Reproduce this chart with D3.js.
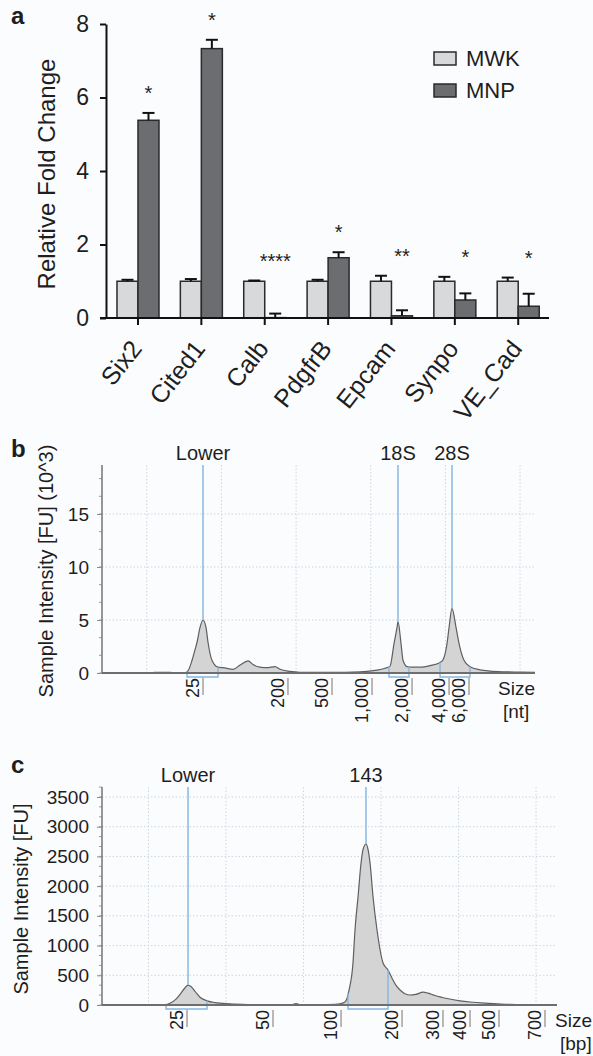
<!DOCTYPE html>
<html><head><meta charset="utf-8">
<script src="https://cdn.jsdelivr.net/npm/d3@7"></script>
<style>
html,body{margin:0;padding:0;background:#fbfcfe;}
svg{display:block;font-family:"Liberation Sans",Arial,Helvetica,sans-serif;}
</style></head><body>
<svg id="chart" width="593" height="1056"></svg>
<script>
// ---------- Panel a data ----------
const genes   = ["Six2","Cited1","Calb","PdgfrB","Epcam","Synpo","VE_Cad"];
const groups  = ["MWK","MNP"];
const mwkMean = [1.0, 1.0, 1.0, 1.0, 1.0, 1.0, 1.0];
const mwkErr  = [0.04, 0.06, 0.02, 0.04, 0.15, 0.12, 0.10];
const mnpMean = [5.38, 7.33, 0.01, 1.64, 0.06, 0.49, 0.32];
const mnpErr  = [0.20, 0.24, 0.11, 0.15, 0.15, 0.18, 0.34];
const signif  = ["*","*","****","*","**","*","*"];
const yTicksA = [0, 2, 4, 6, 8];

// ---------- Panel b data (RNA electropherogram) ----------
const bTime   = [14.0,20.43,21.10,21.77,23.11,23.78,25.12,25.52,26.06,26.46,26.73,27.13,27.53,27.93,28.20,28.73,29.54,30.21,31.55,32.49,33.56,34.23,35.16,36.10,37.17,37.84,39.18,40.52,44.54,48.56,50.57,51.91,52.58,53.12,53.52,53.65,54.05,54.32,54.86,55.53,56.60,57.94,59.28,59.68,60.22,60.49,60.88,61.42,61.82,62.49,63.29,64.63,65.97,67.98,69.99,72.0];
const bSignal = [0,0,0.06,0.07,0.06,0,0.02,0.2,1.2,2.2,2.9,4.3,5.0,4.3,2.9,1.2,0.55,0.5,0.35,0.75,1.15,0.8,0.55,0.5,0.6,0.35,0.15,0.07,0.05,0.1,0.25,0.45,0.65,2.8,4.3,4.84,2.8,1.2,0.6,0.55,0.55,0.7,1.0,1.25,2.8,4.3,6.1,4.3,2.8,1.2,0.6,0.3,0.18,0.11,0.08,0.05];
const bYTicks = [0, 5, 10, 15];
const bLadderLabels = ["25","200","500","1,000","2,000","4,000","6,000"];
const bLadderTimes  = [27.53, 38.91, 44.81, 50.17, 55.53, 60.49, 63.16];
const bPeakNames = ["Lower","18S","28S"];
const bPeakTimes = [27.53, 53.65, 60.88];
const bWinStart  = [25.39, 52.44, 59.28];
const bWinEnd    = [29.54, 55.12, 63.29];

// ---------- Panel c data (small RNA electropherogram) ----------
const cTime   = [14.0,21.48,22.13,22.77,23.55,24.19,24.71,25.10,25.48,26.0,26.64,27.55,28.58,30.51,33.09,35.67,38.51,39.03,39.55,42.13,44.06,44.71,45.35,45.87,46.38,46.64,47.03,47.42,47.68,48.06,48.32,48.58,48.97,49.48,50.26,50.90,51.42,51.93,52.45,53.09,53.74,54.51,55.41,56.06,56.96,58.51,60.19,61.48,63.41,64.96,66.64,69.22,72.7];
const cSignal = [0,0,5,30,100,200,290,335,310,230,130,70,40,20,8,3,5,25,5,3,10,20,50,252,707,1262,1817,2389,2620,2709,2620,2389,1817,1262,707,589,450,330,252,190,168,180,215,200,160,110,70,50,30,20,10,5,0];
const cYTicks = [0,500,1000,1500,2000,2500,3000,3500];
const cLadderLabels = ["25","50","100","200","300","400","500","700"];
const cLadderTimes  = [24.97, 36.06, 44.84, 52.71, 57.99, 61.48, 65.22, 71.15];
const cPeakNames = ["Lower","143"];
const cPeakTimes = [25.10, 48.06];
const cWinStart  = [22.26, 45.74];
const cWinEnd    = [27.55, 50.90];
const gridTimes  = [20, 30, 40, 50, 60, 70];

const svg = d3.select("#chart");
const TXT = "#1e1e1e";

// ================= Panel a =================
const ga = svg.append("g");
const ya = d3.scaleLinear().domain([0, 8]).range([318, 24]);
const xa = d3.scaleBand().domain(genes).range([106.3, 549.9]);
const xg = d3.scaleBand().domain(groups).range([-21, 21]);
const fillA = {MWK: "#d8d9db", MNP: "#6c6d71"};
const seriesA = {MWK: {mean: mwkMean, err: mwkErr}, MNP: {mean: mnpMean, err: mnpErr}};

genes.forEach((g, i) => {
  const cx = xa(g) + xa.bandwidth() / 2;
  let topMax = 0;
  groups.forEach(s => {
    const m = seriesA[s].mean[i], e = seriesA[s].err[i];
    topMax = Math.max(topMax, m + e);
    const bx = cx + xg(s);
    ga.append("rect").attr("x", bx).attr("y", ya(m))
      .attr("width", xg.bandwidth()).attr("height", ya(0) - ya(m))
      .attr("fill", fillA[s]).attr("stroke", "#2a2a2a").attr("stroke-width", 1.5);
    const ex = bx + xg.bandwidth() / 2;
    ga.append("line").attr("x1", ex).attr("x2", ex).attr("y1", ya(m)).attr("y2", ya(m + e))
      .attr("stroke", "#111").attr("stroke-width", 2);
    ga.append("line").attr("x1", ex - 6).attr("x2", ex + 6).attr("y1", ya(m + e)).attr("y2", ya(m + e))
      .attr("stroke", "#111").attr("stroke-width", 2);
  });
  const mx = cx + xg("MNP") + xg.bandwidth() / 2;
  ga.append("text").attr("x", mx).attr("y", ya(topMax) - 13)
    .attr("text-anchor", "middle").attr("font-size", 20).attr("fill", TXT).text(signif[i]);
});

// y axis
const axA = ga.append("g").attr("transform", "translate(106,0)")
  .call(d3.axisLeft(ya).tickValues(yTicksA).tickSize(6).tickPadding(11).tickSizeOuter(0));
axA.select(".domain").attr("stroke", "#111").attr("stroke-width", 2);
axA.selectAll(".tick line").attr("stroke", "#111").attr("stroke-width", 2);
axA.selectAll(".tick text").attr("font-size", 23).attr("fill", TXT)
  .attr("font-family", "Liberation Sans, Arial, sans-serif");

// x axis
ga.append("line").attr("x1", 100).attr("x2", 549).attr("y1", ya(0)).attr("y2", ya(0))
  .attr("stroke", "#111").attr("stroke-width", 2);
const axAx = ga.append("g").attr("transform", `translate(0,${ya(0)})`)
  .call(d3.axisBottom(xa).tickSize(7).tickFormat(""));
axAx.select(".domain").remove();
axAx.selectAll(".tick line").attr("stroke", "#111").attr("stroke-width", 2);
genes.forEach(g => {
  const cx = xa(g) + xa.bandwidth() / 2;
  ga.append("text").attr("transform", `translate(${cx + 5},349) rotate(-52)`)
    .attr("text-anchor", "end").attr("font-size", 25).attr("fill", TXT).text(g);
});

ga.append("text").attr("transform", "translate(55,174) rotate(-90)")
  .attr("text-anchor", "middle").attr("font-size", 24).attr("fill", TXT).text("Relative Fold Change");
svg.append("text").attr("x", 11).attr("y", 24).attr("font-size", 24).attr("font-weight", "bold")
  .attr("fill", TXT).text("a");

// legend
groups.forEach((s, k) => {
  const ly = 52 + k * 32;
  ga.append("rect").attr("x", 434).attr("y", ly).attr("width", 22).attr("height", 13)
    .attr("fill", fillA[s]).attr("stroke", "#2a2a2a").attr("stroke-width", 1.5);
  ga.append("text").attr("x", 466).attr("y", ly + 14).attr("font-size", 22).attr("fill", TXT).text(s);
});

// ================= Electropherogram helper =================
function egram(o) {
  const g = svg.append("g");
  const x = d3.scaleLinear().domain(o.xDomain).range([o.left, o.right]);
  const y = d3.scaleLinear().domain(o.yDomain).range([o.base, o.top]);
  const interp = d3.scaleLinear().domain(o.times).range(o.signal);

  // grid
  g.selectAll(".vg").data(gridTimes).join("line")
    .attr("x1", d => x(d)).attr("x2", d => x(d)).attr("y1", o.top).attr("y2", o.base)
    .attr("stroke", "#cdd6de").attr("stroke-width", 1).attr("stroke-dasharray", "1.5,2");
  g.selectAll(".hg").data(o.yTicks.filter(d => d > 0)).join("line")
    .attr("x1", o.left).attr("x2", o.right).attr("y1", d => y(d)).attr("y2", d => y(d))
    .attr("stroke", "#cdd6de").attr("stroke-width", 1).attr("stroke-dasharray", "1.5,2");

  // trace
  const area = d3.area().x((d, i) => x(o.times[i])).y0(y(0)).y1(d => y(d)).curve(d3.curveMonotoneX);
  const line = d3.line().x((d, i) => x(o.times[i])).y(d => y(d)).curve(d3.curveMonotoneX);
  g.append("path").datum(o.signal).attr("d", area).attr("fill", "#d4d4d5");
  g.append("path").datum(o.signal).attr("d", line).attr("fill", "none")
    .attr("stroke", "#5f5f5f").attr("stroke-width", 1.2);

  // peak markers
  o.peakTimes.forEach((t, i) => {
    g.append("line").attr("x1", x(t)).attr("x2", x(t)).attr("y1", o.top).attr("y2", y(interp(t)))
      .attr("stroke", "#8fbde4").attr("stroke-width", 1.6);
    g.append("text").attr("x", x(t)).attr("y", o.top - 5).attr("text-anchor", "middle")
      .attr("font-size", 20).attr("fill", TXT).text(o.peakNames[i]);
  });
  // integration windows
  o.winStart.forEach((s, i) => {
    const e = o.winEnd[i];
    const yb = y(0) + 4;
    g.append("path")
      .attr("d", `M${x(s)},${y(interp(s))}V${yb}H${x(e)}V${y(interp(e))}`)
      .attr("fill", "none").attr("stroke", "#86b6e0").attr("stroke-width", 1.4);
  });

  // axes
  const ay = g.append("g").attr("transform", `translate(${o.left},0)`)
    .call(d3.axisLeft(y).tickValues(o.yTicks).tickFormat(d3.format("d")).tickSize(5).tickPadding(8).tickSizeOuter(0));
  ay.select(".domain").remove();
  ay.selectAll(".tick line").attr("stroke", "#8a8a8a").attr("stroke-width", 1);
  ay.selectAll(".tick text").attr("font-size", 19).attr("fill", TXT)
    .attr("font-family", "Liberation Sans, Arial, sans-serif");
  const minor = [];
  const step = o.yTicks[1] - o.yTicks[0];
  for (let v = 0; v <= o.yDomain[1]; v += step / 3) minor.push(v);
  g.selectAll(".mt").data(minor).join("line")
    .attr("x1", o.left - 3).attr("x2", o.left).attr("y1", d => y(d)).attr("y2", d => y(d))
    .attr("stroke", "#9a9a9a").attr("stroke-width", 1);
  g.append("line").attr("x1", o.left).attr("x2", o.left).attr("y1", o.top).attr("y2", o.base)
    .attr("stroke", "#7c7c7c").attr("stroke-width", 1.6);
  g.append("line").attr("x1", o.left).attr("x2", o.right).attr("y1", o.base).attr("y2", o.base)
    .attr("stroke", "#6e6e6e").attr("stroke-width", 1.8);

  // ladder labels
  o.ladderTimes.forEach((t, i) => {
    g.append("line").attr("x1", x(t)).attr("x2", x(t)).attr("y1", o.base + 5).attr("y2", o.base + 22)
      .attr("stroke", "#a39a93").attr("stroke-width", 1.4);
    g.append("text").attr("transform", `translate(${x(t) - 4},${o.base + 5}) rotate(-90)`)
      .attr("text-anchor", "end").attr("font-size", 18).attr("fill", TXT).text(o.ladderLabels[i]);
  });
  g.append("text").attr("x", o.sizeX).attr("y", o.sizeY).attr("font-size", 19).attr("fill", TXT).text("Size");
  g.append("text").attr("x", o.sizeX + 5).attr("y", o.sizeY + 23).attr("font-size", 19).attr("fill", TXT).text(o.unit);

  g.append("text").attr("transform", `translate(${o.labX},${(o.top + o.base) / 2 + o.labDy}) rotate(-90)`)
    .attr("text-anchor", "middle").attr("font-size", 20).attr("fill", TXT).text(o.yLabel);
  svg.append("text").attr("x", 11).attr("y", o.letterY).attr("font-size", 24).attr("font-weight", "bold")
    .attr("fill", TXT).text(o.letter);
}

egram({
  xDomain: [14, 72], yDomain: [0, 19.62], left: 102, right: 535, top: 465, base: 673,
  times: bTime, signal: bSignal, yTicks: bYTicks,
  ladderTimes: bLadderTimes, ladderLabels: bLadderLabels,
  peakNames: bPeakNames, peakTimes: bPeakTimes, winStart: bWinStart, winEnd: bWinEnd,
  sizeX: 498, sizeY: 695, unit: "[nt]", yLabel: "Sample Intensity [FU] (10^3)",
  labX: 53, labDy: 2, letter: "b", letterY: 457
});
egram({
  xDomain: [14, 72.7], yDomain: [0, 3668], left: 102, right: 557, top: 787, base: 1005,
  times: cTime, signal: cSignal, yTicks: cYTicks,
  ladderTimes: cLadderTimes, ladderLabels: cLadderLabels,
  peakNames: cPeakNames, peakTimes: cPeakTimes, winStart: cWinStart, winEnd: cWinEnd,
  sizeX: 555, sizeY: 1027, unit: "[bp]", yLabel: "Sample Intensity [FU]",
  labX: 28, labDy: 3, letter: "c", letterY: 773
});
</script>
</body></html>
